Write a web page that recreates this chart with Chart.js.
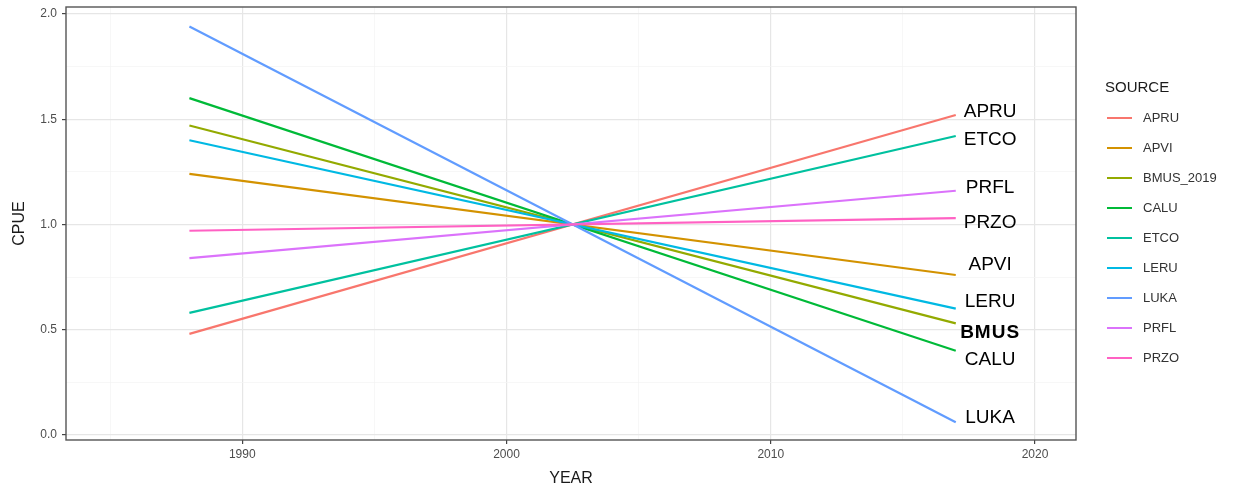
<!DOCTYPE html>
<html>
<head>
<meta charset="utf-8">
<script src="https://cdn.jsdelivr.net/npm/chart.js@4"></script>
<style>
  html, body { margin: 0; padding: 0; background: #fff; }
  #wrap { width: 1243px; height: 488px; }
</style>
</head>
<body>
<div id="wrap"><canvas id="cpueChart" width="1243" height="488"></canvas></div>
<script>
// data: one straight line per source, 1988 -> 2017
const years = [1988, 2017];
const sources = ["APRU", "APVI", "BMUS_2019", "CALU", "ETCO", "LERU", "LUKA", "PRFL", "PRZO"];
const cpueStart = [0.48, 1.24, 1.47, 1.60, 0.58, 1.40, 1.94, 0.84, 0.97];
const cpueEnd   = [1.52, 0.76, 0.53, 0.40, 1.42, 0.60, 0.06, 1.16, 1.03];

// text labels at the right end of the lines
const endLabels = ["APRU", "APVI", "BMUS", "CALU", "ETCO", "LERU", "LUKA", "PRFL", "PRZO"];
const endLabelY = [1.534, 0.808, 0.485, 0.356, 1.401, 0.632, 0.081, 1.173, 1.007];
const endLabelYear = 2018.3;

const xTickValues = [1985, 1990, 1995, 2000, 2005, 2010, 2015, 2020];
const yTickValues = [0, 0.25, 0.5, 0.75, 1, 1.25, 1.5, 1.75, 2];

// ggplot default hue palette for 9 groups
const colors = ["#F8766D", "#D39200", "#93AA00", "#00BA38", "#00C19F", "#00B9E3", "#619CFF", "#DB72FB", "#FF61C3"];

const isMajorX = v => v % 10 === 0;
const isMajorY = v => Math.abs(v * 2 - Math.round(v * 2)) < 1e-6;

const datasets = sources.map((name, i) => ({
  label: name,
  data: [{ x: years[0], y: cpueStart[i] }, { x: years[1], y: cpueEnd[i] }],
  showLine: true,
  borderColor: colors[i],
  backgroundColor: colors[i],
  borderWidth: 2.2,
  pointRadius: 0,
  order: sources.length - i
}));

const panelAndLabels = {
  id: "panelAndLabels",
  afterDatasetsDraw(chart) {
    const { ctx, chartArea, scales } = chart;
    ctx.save();
    // end-of-line labels
    ctx.fillStyle = "#000";
    ctx.textAlign = "center";
    ctx.textBaseline = "middle";
    endLabels.forEach((txt, i) => {
      const bold = txt === "BMUS";
      ctx.font = (bold ? "bold " : "") + "19px 'Liberation Sans', Arial, sans-serif";
      ctx.letterSpacing = bold ? "1px" : "0px";
      ctx.fillText(txt, scales.x.getPixelForValue(endLabelYear), scales.y.getPixelForValue(endLabelY[i]));
    });
    ctx.letterSpacing = "0px";
    // panel border (theme_bw)
    ctx.strokeStyle = "#555";
    ctx.lineWidth = 1.4;
    ctx.strokeRect(chartArea.left, chartArea.top, chartArea.right - chartArea.left, chartArea.bottom - chartArea.top);
    ctx.restore();
  },
  afterDraw(chart) {
    const { ctx } = chart;
    ctx.save();
    // legend
    ctx.fillStyle = "#1a1a1a";
    ctx.font = "15px 'Liberation Sans', Arial, sans-serif";
    ctx.textBaseline = "middle";
    ctx.textAlign = "left";
    ctx.fillText("SOURCE", 1105, 88);
    ctx.font = "13px 'Liberation Sans', Arial, sans-serif";
    sources.forEach((name, i) => {
      const y = 118 + i * 30;
      ctx.strokeStyle = colors[i];
      ctx.lineWidth = 2;
      ctx.beginPath();
      ctx.moveTo(1107, y);
      ctx.lineTo(1132, y);
      ctx.stroke();
      ctx.fillStyle = "#333";
      ctx.fillText(name, 1143, y);
    });
    ctx.restore();
  }
};

new Chart(document.getElementById("cpueChart").getContext("2d"), {
  type: "scatter",
  data: { datasets },
  options: {
    responsive: false,
    animation: false,
    layout: { padding: { left: 0, top: 7, right: 167, bottom: 0 } },
    plugins: { legend: { display: false }, tooltip: { enabled: false } },
    scales: {
      x: {
        type: "linear",
        min: 1983.33,
        max: 2021.55,
        afterBuildTicks: s => { s.ticks = xTickValues.map(v => ({ value: v })); },
        afterFit: s => { s.height = 48; s.paddingLeft = 0; s.paddingRight = 0; },
        border: { display: false },
        grid: {
          color: c => isMajorX(c.tick.value) ? "#e6e6e6" : "#f3f3f3",
          lineWidth: c => isMajorX(c.tick.value) ? 1.2 : 0.7,
          tickColor: c => isMajorX(c.tick.value) ? "#444" : "rgba(0,0,0,0)",
          tickLength: 4
        },
        ticks: {
          autoSkip: false,
          maxRotation: 0,
          padding: 3,
          color: "#4d4d4d",
          font: { family: "'Liberation Sans', Arial, sans-serif", size: 12 },
          callback: v => isMajorX(v) ? String(v) : ""
        },
        title: {
          display: true,
          text: "YEAR",
          color: "#1a1a1a",
          font: { family: "'Liberation Sans', Arial, sans-serif", size: 16 },
          padding: { top: 0, bottom: 0 }
        }
      },
      y: {
        min: -0.024,
        max: 2.033,
        afterBuildTicks: s => { s.ticks = yTickValues.map(v => ({ value: v })); },
        afterFit: s => { s.width = 66; s.paddingTop = 0; s.paddingBottom = 0; },
        border: { display: false },
        grid: {
          color: c => isMajorY(c.tick.value) ? "#e6e6e6" : "#f3f3f3",
          lineWidth: c => isMajorY(c.tick.value) ? 1.2 : 0.7,
          tickColor: c => isMajorY(c.tick.value) ? "#444" : "rgba(0,0,0,0)",
          tickLength: 4
        },
        ticks: {
          autoSkip: false,
          padding: 5,
          color: "#4d4d4d",
          font: { family: "'Liberation Sans', Arial, sans-serif", size: 12 },
          callback: v => isMajorY(v) ? v.toFixed(1) : ""
        },
        title: {
          display: true,
          text: "CPUE",
          color: "#1a1a1a",
          font: { family: "'Liberation Sans', Arial, sans-serif", size: 16 },
          padding: { top: 10, bottom: 0 }
        }
      }
    }
  },
  plugins: [panelAndLabels]
});
</script>
</body>
</html>
